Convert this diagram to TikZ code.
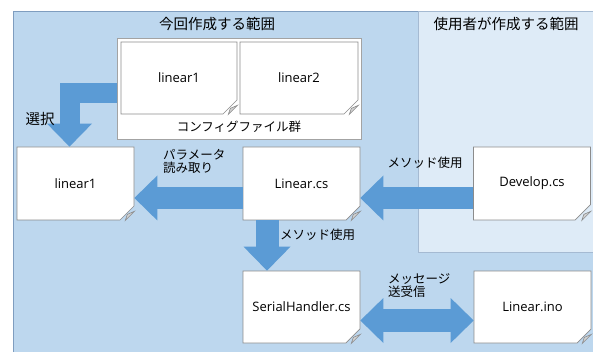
\documentclass[tikz,border=0pt]{standalone}
\usepackage{fontspec}
\setmainfont{Open Sans}
\newfontfamily\jp{Noto Sans CJK JP}
\usetikzlibrary{arrows.meta,shapes.misc,calc}

\definecolor{outerblue}{HTML}{BDD7EE}
\definecolor{innerblue}{HTML}{DEEBF7}
\definecolor{frameblue}{HTML}{7F9DBF}
\definecolor{arrowblue}{HTML}{5B9BD5}
\definecolor{docgray}{HTML}{8C8C8C}

\tikzset{
  doc/.style={chamfered rectangle, chamfered rectangle corners=south east,
    chamfered rectangle xsep=9pt, chamfered rectangle ysep=9pt,
    fill=white, draw=docgray, line width=0.7pt, inner sep=0pt,
    minimum width=117pt, minimum height=73pt,
    font=\fontsize{13}{15}\selectfont},
  fold/.style={fill=gray!35, draw=docgray, line width=0.6pt},
  group/.style={fill=white, draw=docgray!80, line width=0.7pt, inner sep=0pt},
  title/.style={font=\jp\fontsize{14.5}{16}\selectfont},
  lbl/.style={font=\jp\fontsize{12.5}{13}\selectfont, inner sep=0pt, align=left},
  fat/.style={draw=arrowblue, line width=22pt,
    -{Triangle[length=23pt,width=45pt,line width=0pt]}},
  fatboth/.style={draw=arrowblue, line width=23pt,
    {Triangle[length=23pt,width=45pt,line width=0pt]}-{Triangle[length=23pt,width=45pt,line width=0pt]}}
}

\begin{document}
\begin{tikzpicture}[x=1pt,y=-1pt]
    \useasboundingbox (0,0) rectangle (593,352);

    % Areas
    \filldraw[fill=outerblue, draw=frameblue, line width=0.8pt] (13,11) rectangle (610,370);
    \filldraw[fill=innerblue, draw=frameblue!70, line width=0.8pt] (418,11) rectangle (610,252);
    \node[title] (ttl1) at (217,24) {今回作成する範囲};
    \node[title] (ttl2) at (506,24) {使用者が作成する範囲};

    % Config files
    \node[group, minimum width=244pt, minimum height=101pt] (cfg) at (239,88.5) {};
    \node[doc, minimum width=116pt, minimum height=72pt] (cfgA) at (179,78) {linear1};
    \node[doc, minimum width=118pt, minimum height=72pt] (cfgB) at (299,78) {linear2};
    \node[lbl] (cfglbl) at (239,127) {コンフィグファイル群};

    % Files
    \node[doc] (prm) at (75.5,183.5) {linear1};
    \node[doc] (lin) at (301.5,183.5) {Linear.cs};
    \node[doc] (dev) at (532,183.5) {Develop.cs};
    \node[doc, minimum height=72pt] (ser) at (301.5,307) {SerialHandler.cs};
    \node[doc, minimum height=72pt] (ino) at (532.5,307) {Linear.ino};

    % Folded corners
    \foreach \n in {cfgA,cfgB,prm,lin,dev,ser,ino}{
      \filldraw[fold] ($(\n.south -| \n.east)+(0,-9)$) -- ($(\n.south -| \n.east)+(-7,-6)$)
        -- ($(\n.south -| \n.east)+(-9,0)$) -- cycle;
    }

    % Arrows
    \coordinate (selc) at (69.5,93);
    \draw[fat, line width=20pt, line join=miter] (cfg.west |- selc) -| (selc |- prm.north);
    \draw[fat] ([yshift=-14.5pt]lin.west) -- ([yshift=-14.5pt]prm.east);
    \draw[fat] ([yshift=-14.5pt]dev.west) -- ([yshift=-14.5pt]lin.east);
    \draw[fat, line width=23pt, -{Triangle[length=24pt,width=47pt,line width=0pt]}]
      ([xshift=-34.5pt]lin.south) -- ([xshift=-34.5pt]ser.north);
    \draw[fatboth] ([yshift=-13.5pt]ser.east) -- ([yshift=-13.5pt]ino.west);

    % Labels
    \node[lbl, font=\jp\fontsize{14.5}{16}\selectfont] (sel) at (40,119) {選択};
    \node[lbl, anchor=west] (prmlbl) at (163,161.5) {パラメータ\\読み取り};
    \node[lbl] (use1) at (425,163) {メソッド使用};
    \node[lbl, anchor=west] (use2) at (280,235) {メソッド使用};
    \node[lbl, anchor=west] (msg) at (388,285.5) {メッセージ\\送受信};
\end{tikzpicture}
\end{document}
